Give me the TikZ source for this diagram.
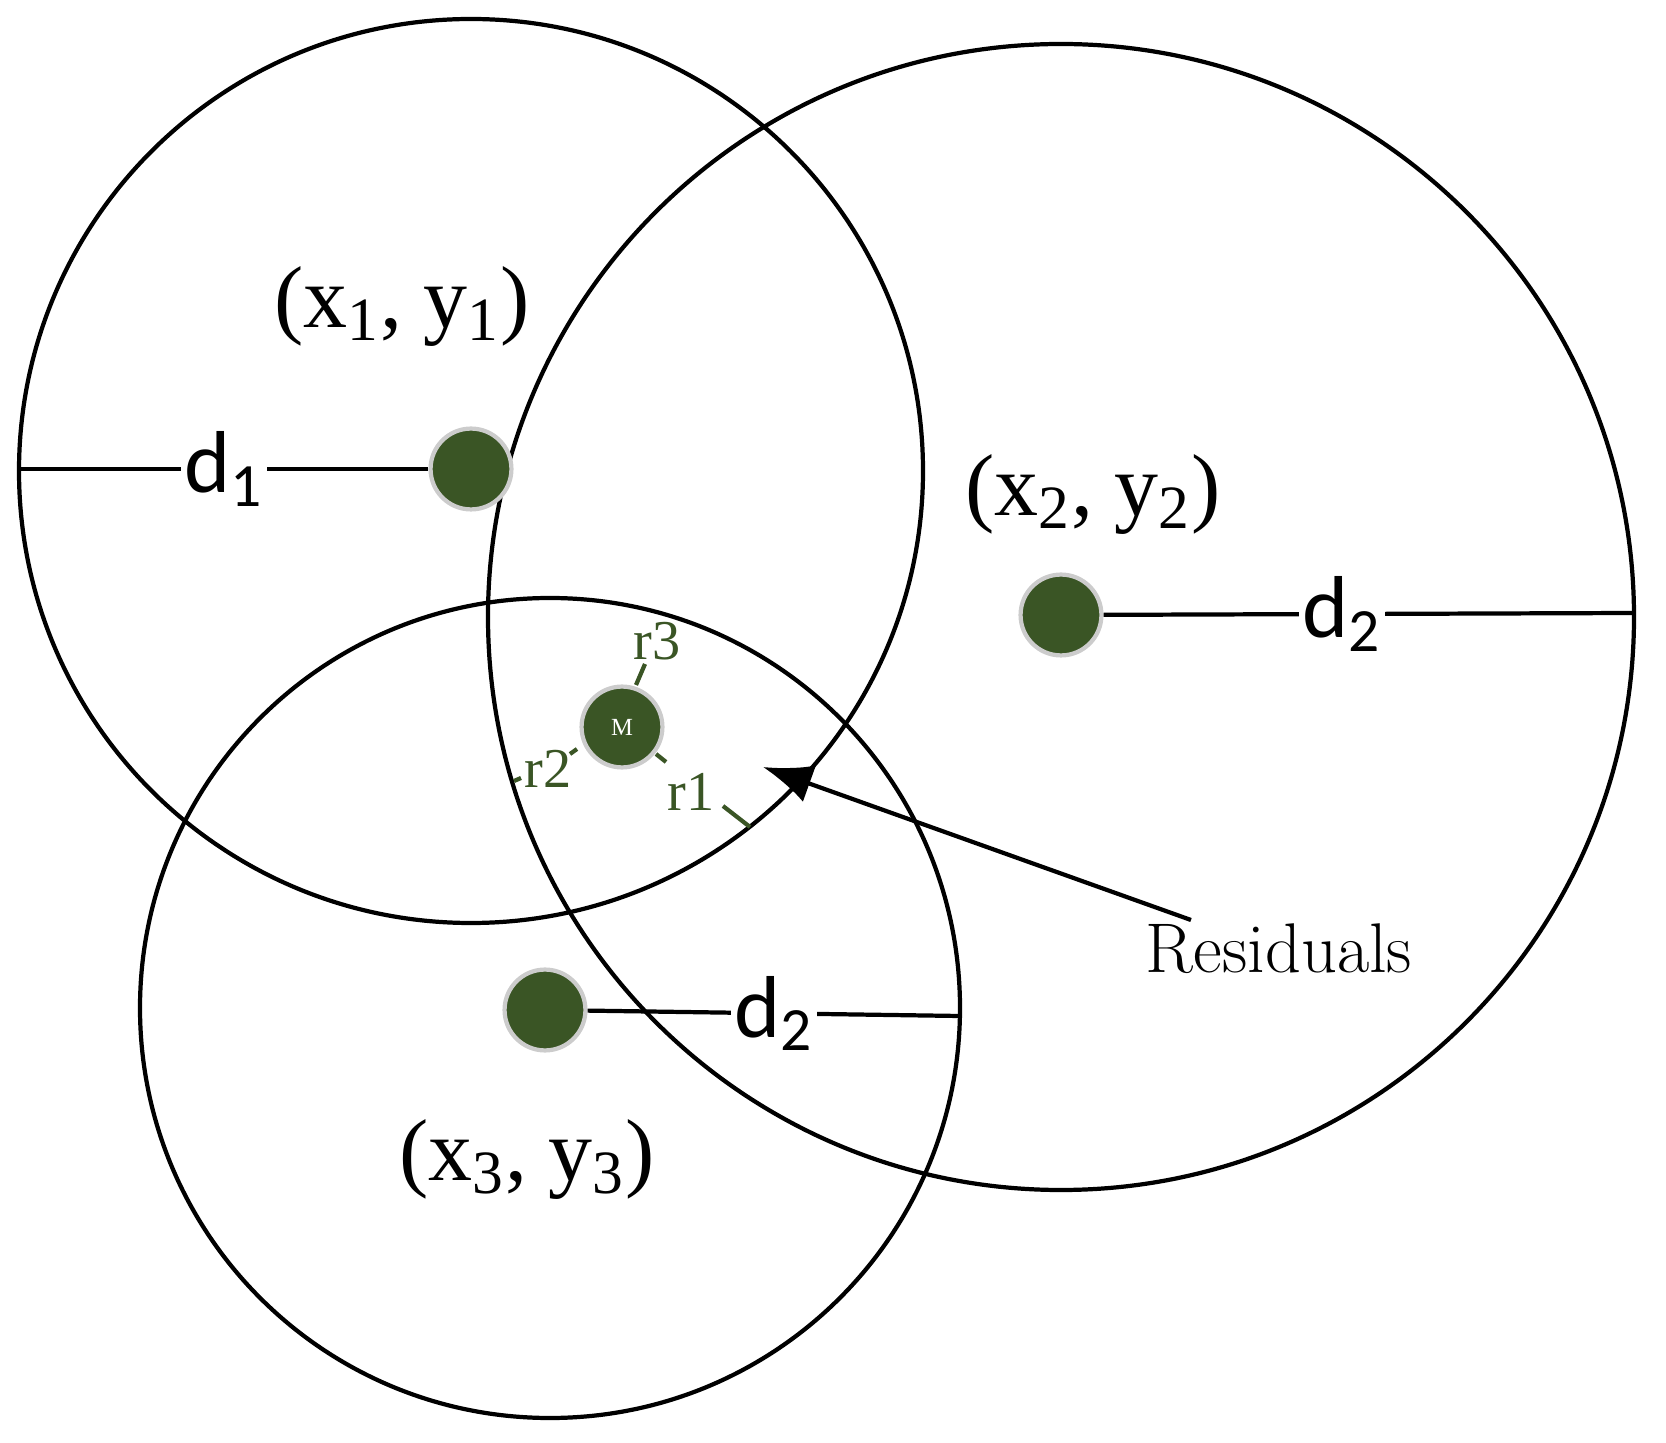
\documentclass[tikz,border=0pt]{standalone}
\usepackage{fontspec}
\newfontfamily\timesf{Liberation Serif}
\newfontfamily\sansf{Carlito}
\usetikzlibrary{arrows,arrows.meta}
\definecolor{dotgreen}{RGB}{58,85,37}
\tikzset{
  ring/.style={draw=black,line width=1.2pt},
  anchor dot/.style={circle,fill=dotgreen,draw=black!20,line width=1.2pt,minimum size=23pt,inner sep=0pt},
  coord/.style={font=\timesf\fontsize{25}{28}\selectfont},
  dist/.style={font=\sansf\fontsize{25}{28}\selectfont,fill=white,inner sep=1pt},
  res/.style={font=\timesf\fontsize{16}{18}\selectfont,text=dotgreen,inner sep=1pt},
  tick/.style={draw=dotgreen,line width=1.2pt}
}
\begin{document}
\begin{tikzpicture}[x=0.01cm,y=-0.01cm]
  \useasboundingbox (0,0) rectangle (1666,1443);
  % circles
  \draw[ring] (471,471) circle (452);
  \draw[ring] (1061,617) circle (573);
  \draw[ring] (550,1008) circle (410);

  % anchors
  \node[anchor dot] (A) at (471,469) {};
  \node[anchor dot] (B) at (1061,615) {};
  \node[anchor dot] (C) at (545,1010) {};
  \node[anchor dot,font=\timesf\scriptsize,text=white] (M) at (622,727) {M};
  \coordinate (Aend) at (19,469);
  \coordinate (Bend) at (1634,613);
  \coordinate (Cend) at (960,1016);

  \draw[line width=1.2pt] (A) -- node[dist] {d\textsubscript{1}} (Aend);
  \draw[line width=1.2pt] (B) -- node[dist,pos=0.45] {d\textsubscript{2}} (Bend);
  \draw[line width=1.2pt] (C) -- node[dist,pos=0.5] {d\textsubscript{2}} (Cend);

  \node[coord] at (402,306) {(x\textsubscript{1}, y\textsubscript{1})};
  \node[coord] at (1093,494) {(x\textsubscript{2}, y\textsubscript{2})};
  \node[coord] at (527,1159) {(x\textsubscript{3}, y\textsubscript{3})};

  % residuals
  \node[res] (r3) at (657,641) {r3};
  \node[res] (r2) at (548,769) {r2};
  \node[res] (r1) at (691,792) {r1};
  \draw[tick] (636,685) -- (645,664);
  \draw[tick] (577,749) -- (570,754);
  \draw[tick] (514,781) -- (521,778);
  \draw[tick] (656,754) -- (666,762);
  \draw[tick] (723,806) -- (750,827);

  \node[font=\fontsize{20}{24}\selectfont] (R) at (1279,949) {Residuals};
  \coordinate (Rtip) at (763,767);
  \draw[-{Latex[length=14pt,width=11pt]},line width=1.2pt] (1191,920) -- (Rtip);
\end{tikzpicture}
\end{document}
